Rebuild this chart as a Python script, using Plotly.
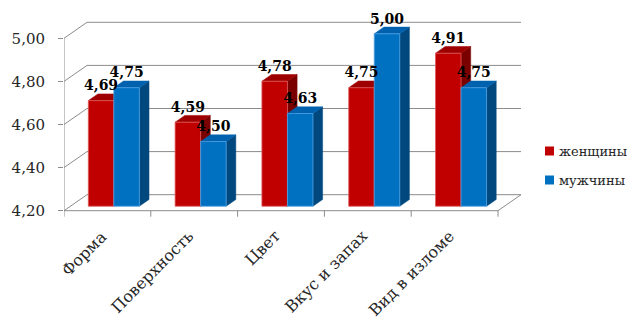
import plotly.graph_objects as go

# ---- data -------------------------------------------------------------
categories = ["Форма", "Поверхность", "Цвет", "Вкус и запах", "Вид в изломе"]
women = [4.69, 4.59, 4.78, 4.75, 4.91]
men = [4.75, 4.50, 4.63, 5.00, 4.75]
series_names = ["женщины", "мужчины"]
y_ticks = [4.20, 4.40, 4.60, 4.80, 5.00]
y_tick_labels = ["4,20", "4,40", "4,60", "4,80", "5,00"]

# ---- styling / geometry ----------------------------------------------
W, H = 629, 320
M_L, M_R, M_T, M_B = 64, 108, 20, 102
PX_X = 86.8          # pixels per category
PX_Y = 215.5         # pixels per value unit
DEPTH_PX = (23, 16)  # oblique offset of the back wall (right, up)
DX = DEPTH_PX[0] / PX_X
DY = DEPTH_PX[1] / PX_Y
F_FRONT, F_BACK = 0.28, 0.70   # bar slab position inside the depth
BAR_W = 0.294                  # bar width in category units

FACE = {
    0: dict(front="#C00000", top="#9E0000", side="#7A0000", edge="#E05A5A"),
    1: dict(front="#0070C0", top="#0062AE", side="#00487E", edge="#4FA3E6"),
}
GRID = "#8C8C8C"
FONT = "DejaVu Serif"

base = y_ticks[0]
x_min = -0.5
x_max = x_min + (W - M_L - M_R) / PX_X
plot_h = H - M_T - M_B
y_min = base - (plot_h - (y_ticks[-1] - base) * PX_Y - (38.3 - M_T)) / PX_Y
y_max = y_ticks[-1] + (38.3 - M_T) / PX_Y

fig = go.Figure()

# ---- 3D frame: back wall gridlines, floor, front axis -----------------
shapes = []
n = len(categories)
left, right = -0.5, n - 0.5
for v in y_ticks:
    shapes.append(dict(type="line", x0=left, y0=v, x1=left + DX, y1=v + DY))
    shapes.append(dict(type="line", x0=left + DX, y0=v + DY, x1=right + DX, y1=v + DY))
# floor
shapes.append(dict(type="line", x0=left, y0=base, x1=right, y1=base))
shapes.append(dict(type="line", x0=right, y0=base, x1=right + DX, y1=base + DY))
# front value axis
shapes.append(dict(type="line", x0=left, y0=base, x1=left, y1=y_ticks[-1]))
for s in shapes:
    s.update(xref="x", yref="y", layer="below", line=dict(color=GRID, width=1))

# category tick marks below the floor
for k in range(n + 1):
    shapes.append(dict(type="line", xref="x", yref="y", x0=left + k, x1=left + k,
                       y0=base, y1=base - 6 / PX_Y, layer="below",
                       line=dict(color=GRID, width=1)))

# ---- bars as oblique prisms -------------------------------------------
def poly(xs, ys, color, edge=None):
    fig.add_trace(go.Scatter(
        x=xs + [xs[0]], y=ys + [ys[0]], mode="lines", fill="toself",
        fillcolor=color, line=dict(color=edge or color, width=0.8 if edge else 0.5),
        hoverinfo="skip", showlegend=False))

dxb = (F_BACK - F_FRONT) * DX
label_x, label_y, label_t = [], [], []
for i in range(n):
    for s, vals in enumerate([women, men]):
        v = vals[i]
        c = FACE[s]
        xl = i + (s - 1) * BAR_W + F_FRONT * DX
        xr = xl + BAR_W
        yb = base + F_FRONT * DY
        yt = v + F_FRONT * DY
        ytb = v + F_BACK * DY
        ybb = base + F_BACK * DY
        # side face
        poly([xr, xr, xr + dxb, xr + dxb], [yb, yt, ytb, ybb], c["side"])
        # top face
        poly([xl, xr, xr + dxb, xl + dxb], [yt, yt, ytb, ytb], c["top"])
        # front face
        poly([xl, xr, xr, xl], [yb, yb, yt, yt], c["front"], c["edge"])
        label_x.append((xl + xr) / 2)
        label_y.append(ytb)
        label_t.append(f"{v:.2f}".replace(".", ","))

# value labels
fig.add_trace(go.Scatter(
    x=label_x, y=label_y, text=label_t, mode="text", textposition="top center",
    textfont=dict(family=FONT, size=14, color="#000000"),
    texttemplate="<b>%{text}</b>", hoverinfo="skip", showlegend=False, cliponaxis=False))

# category labels (rotated)
annotations = []
for i, name in enumerate(categories):
    annotations.append(dict(
        x=i, y=base, xref="x", yref="y", text=name, showarrow=False,
        textangle=-45, xanchor="right", yanchor="top", xshift=6, yshift=-13,
        font=dict(family=FONT, size=16, color="#262626")))

# legend keys
legend_colors = [FACE[0]["front"], FACE[1]["front"]]
for k, (name, col) in enumerate(zip(series_names, legend_colors)):
    cy = 151 + k * 29
    to_px = lambda px: (px - M_L) / (W - M_L - M_R)
    to_py = lambda py: 1 - (py - M_T) / plot_h
    shapes.append(dict(type="rect", xref="paper", yref="paper",
                       x0=to_px(545), x1=to_px(554), y0=to_py(cy + 4.5), y1=to_py(cy - 4.5),
                       fillcolor=col, line=dict(width=0)))
    annotations.append(dict(x=to_px(557), y=to_py(cy), xref="paper", yref="paper",
                            text=name, showarrow=False, xanchor="left", yanchor="middle",
                            font=dict(family=FONT, size=13, color="#262626")))

fig.update_layout(
    width=W, height=H, margin=dict(l=M_L, r=M_R, t=M_T, b=M_B),
    paper_bgcolor="white", plot_bgcolor="white",
    shapes=shapes, annotations=annotations, showlegend=False,
    xaxis=dict(range=[x_min, x_max], visible=False, fixedrange=True, automargin=False),
    yaxis=dict(range=[y_min, y_max], tickvals=y_ticks, ticktext=y_tick_labels,
               showgrid=False, zeroline=False, showline=False, automargin=False,
               ticks="outside", ticklen=5, tickcolor=GRID, ticklabelstandoff=10,
               tickfont=dict(family=FONT, size=15, color="#262626"), fixedrange=True),
)

fig.write_html("out.html")
